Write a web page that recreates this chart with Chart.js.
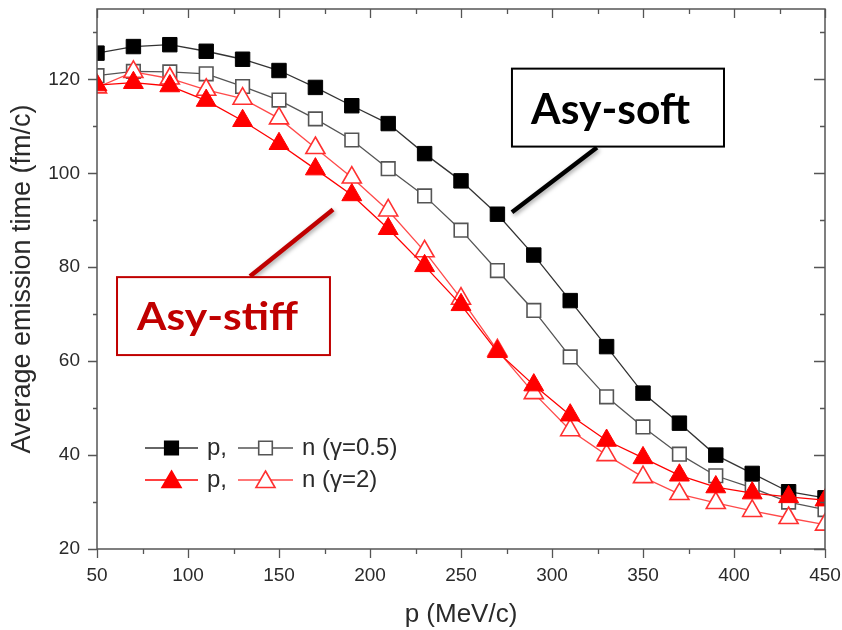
<!DOCTYPE html>
<html>
<head>
<meta charset="utf-8">
<script src="https://cdn.jsdelivr.net/npm/chart.js@4.4.1/dist/chart.umd.min.js"></script>
<style>
  html, body { margin: 0; padding: 0; background: #fff; }
  #chart { display: block; }
</style>
</head>
<body>
<canvas id="chart" width="842" height="630"></canvas>
<script>
// ─────────────────────────────────────────
//  DATA
// ─────────────────────────────────────────
const momentum = [50, 70, 90, 110, 130, 150, 170, 190, 210, 230, 250,
                  270, 290, 310, 330, 350, 370, 390, 410, 430, 450];

// proton / neutron emission times, gamma = 0.5 (asy-soft)
const protonSoft  = [125.6, 127.0, 127.4, 126.0, 124.3, 121.9, 118.3, 114.4, 110.6, 104.2, 98.4,
                     91.3, 82.6, 72.9, 63.1, 53.2, 46.8, 40.0, 36.1, 32.2, 30.9];
const neutronSoft = [120.8, 121.7, 121.6, 121.2, 118.5, 115.6, 111.6, 107.1, 101.0, 95.2, 87.9,
                     79.3, 70.8, 60.9, 52.4, 46.0, 40.2, 35.6, 33.0, 30.0, 28.4];

// proton / neutron emission times, gamma = 2 (asy-stiff)
const protonStiff  = [118.8, 119.3, 118.6, 115.5, 111.2, 106.3, 100.9, 95.4, 88.2, 80.3, 72.0,
                      62.0, 54.9, 48.5, 43.1, 39.4, 35.7, 33.2, 31.9, 31.1, 30.4];
const neutronStiff = [118.3, 121.6, 120.2, 117.8, 115.9, 111.7, 105.4, 99.1, 92.1, 83.4, 73.3,
                      62.3, 53.2, 45.3, 40.0, 35.3, 31.7, 29.8, 28.1, 26.6, 25.2];

const xTickLabels = [50, 100, 150, 200, 250, 300, 350, 400, 450];
const yTickLabels = [20, 40, 60, 80, 100, 120];

const legendRows = [
  { text1: 'p,', text2: 'n (γ=0.5)' },
  { text1: 'p,', text2: 'n (γ=2)' },
];

// ─────────────────────────────────────────
//  STYLE
// ─────────────────────────────────────────
const FONT       = '"Liberation Sans", Arial, sans-serif';
const NOTE_FONT  = 'Lato, "Open Sans", sans-serif';
const FRAME_CLR  = '#555';
const TEXT_CLR   = '#2a2a2a';
const STIFF_RED  = '#c00000';

const series = [
  { data: protonStiff,  shape: 'triangle', line: '#ff0000', stroke: '#ff0000', fill: '#ff0000', r: 11.5 },
  { data: neutronStiff, shape: 'triangle', line: '#ff4a4a', stroke: '#ff3030', fill: '#ffffff', r: 11 },
  { data: protonSoft,   shape: 'rect',     line: '#333333', stroke: '#000000', fill: '#000000', r: 10.2 },
  { data: neutronSoft,  shape: 'rect',     line: '#555555', stroke: '#555555', fill: '#ffffff', r: 9.6 },
];

// text boxes with pointer lines, placed in data coordinates
const notes = [
  { text: 'Asy-soft', color: '#000', fontPx: 42, widthPx: 159,
    box: [278.0, 122.3, 394.5, 105.7], textAt: [288.5, 110.6],
    pointer: [[278.0, 91.7], [324.7, 105.5]] },
  { text: 'Asy-stiff', color: STIFF_RED, fontPx: 39, widthPx: 161,
    box: [61.0, 77.9, 178.0, 61.3], textAt: [72.0, 66.6],
    pointer: [[134.1, 78.1], [179.7, 92.3]] },
];

// ─────────────────────────────────────────
//  PLUGINS
// ─────────────────────────────────────────
function markerPath(ctx, shape, x, y, r) {
  ctx.beginPath();
  if (shape === 'rect') {
    const s = Math.SQRT1_2 * r;
    ctx.rect(x - s, y - s, 2 * s, 2 * s);
  } else {
    for (let k = 0; k < 3; k++) {
      const a = k * 2 * Math.PI / 3;
      const px = x + Math.sin(a) * r, py = y - Math.cos(a) * r;
      k === 0 ? ctx.moveTo(px, py) : ctx.lineTo(px, py);
    }
    ctx.closePath();
  }
}

const frameAndTicks = {
  id: 'frameAndTicks',
  afterDraw(chart) {
    const { ctx, chartArea: a, scales: { x, y } } = chart;
    ctx.save();
    ctx.strokeStyle = FRAME_CLR;
    ctx.lineWidth = 1.5;
    ctx.strokeRect(a.left, a.top, a.right - a.left, a.bottom - a.top);

    ctx.lineWidth = 1.3;
    ctx.beginPath();
    x.ticks.forEach(t => {
      const px = Math.round(x.getPixelForValue(t.value)) + 0.5;
      const major = t.value % 50 === 0;
      const len = major ? 9 : 5;
      ctx.moveTo(px, a.bottom); ctx.lineTo(px, a.bottom + len);   // out
      ctx.moveTo(px, a.top);    ctx.lineTo(px, a.top + len);      // in
    });
    y.ticks.forEach(t => {
      const py = Math.round(y.getPixelForValue(t.value)) + 0.5;
      const major = t.value % 20 === 0;
      ctx.moveTo(a.left, py);  ctx.lineTo(a.left - (major ? 9 : 4), py);   // out
      ctx.moveTo(a.right, py); ctx.lineTo(a.right - (major ? 11 : 5), py); // in
    });
    ctx.stroke();
    ctx.restore();
  },
};

const legendBox = {
  id: 'legendBox',
  afterDraw(chart) {
    const { ctx, chartArea: a } = chart;
    const x0 = a.left + 48;
    const rowY = [a.top + 439, a.top + 471];
    ctx.save();
    legendRows.forEach((row, i) => {
      const yy = rowY[i];
      const pair = [series[i === 0 ? 2 : 0], series[i === 0 ? 3 : 1]];
      const segs = [[x0, x0 + 53, x0 + 62], [x0 + 93, x0 + 148, x0 + 157]];
      pair.forEach((s, j) => {
        const [l0, l1, tx] = segs[j];
        ctx.strokeStyle = s.line;
        ctx.lineWidth = 1.3;
        ctx.beginPath(); ctx.moveTo(l0, yy); ctx.lineTo(l1, yy); ctx.stroke();
        const mx = (l0 + l1) / 2;
        const r = s.shape === 'rect' ? 9.6 : 11;
        markerPath(ctx, s.shape, mx, yy + (s.shape === 'rect' ? 0 : 2), r);
        ctx.fillStyle = s.fill; ctx.fill();
        ctx.strokeStyle = s.stroke; ctx.lineWidth = 1.6; ctx.stroke();
        ctx.fillStyle = TEXT_CLR;
        ctx.font = '24px ' + FONT;
        ctx.textBaseline = 'alphabetic';
        ctx.fillText(j === 0 ? row.text1 : row.text2, tx, yy + 7);
      });
    });
    ctx.restore();
  },
};

const noteBoxes = {
  id: 'noteBoxes',
  afterDraw(chart) {
    const { ctx, scales: { x, y } } = chart;
    const X = v => x.getPixelForValue(v), Y = v => y.getPixelForValue(v);
    ctx.save();
    notes.forEach(n => {
      // pointer with a soft shadow
      ctx.save();
      ctx.shadowColor = 'rgba(0,0,0,0.35)';
      ctx.shadowBlur = 4; ctx.shadowOffsetX = 1.5; ctx.shadowOffsetY = 2;
      ctx.strokeStyle = n.color; ctx.lineWidth = 4.5; ctx.lineCap = 'butt';
      ctx.beginPath();
      ctx.moveTo(X(n.pointer[0][0]), Y(n.pointer[0][1]));
      ctx.lineTo(X(n.pointer[1][0]), Y(n.pointer[1][1]));
      ctx.stroke();
      ctx.restore();

      const bx = X(n.box[0]), by = Y(n.box[1]);
      const bw = X(n.box[2]) - bx, bh = Y(n.box[3]) - by;
      ctx.fillStyle = '#fff';
      ctx.fillRect(bx, by, bw, bh);
      ctx.strokeStyle = n.color; ctx.lineWidth = 2;
      ctx.strokeRect(bx, by, bw, bh);

      ctx.font = 'bold ' + n.fontPx + 'px ' + NOTE_FONT;
      ctx.textBaseline = 'alphabetic';
      const w = ctx.measureText(n.text).width;
      ctx.save();
      ctx.translate(X(n.textAt[0]), Y(n.textAt[1]));
      ctx.scale(n.widthPx / w, 1);
      ctx.fillStyle = n.color;
      ctx.fillText(n.text, 0, 0);
      ctx.restore();
    });
    ctx.restore();
  },
};

// fixed axis boxes, no extra label overhang padding
function fixBox(size) {
  return s => {
    if (s.isHorizontal()) s.height = size; else s.width = size;
    s.paddingTop = s.paddingBottom = s.paddingLeft = s.paddingRight = 0;
  };
}

// ─────────────────────────────────────────
//  CHART
// ─────────────────────────────────────────
const datasets = series.map(s => ({
  data: momentum.map((m, i) => ({ x: m, y: s.data[i] })),
  borderColor: s.line,
  borderWidth: 1.3,
  pointStyle: s.shape,
  pointRadius: s.r,
  pointBackgroundColor: s.fill,
  pointBorderColor: s.stroke,
  pointBorderWidth: s.fill === '#ffffff' ? 1.6 : 1,
  tension: 0,
}));

new Chart(document.getElementById('chart'), {
  type: 'line',
  data: { datasets },
  plugins: [frameAndTicks, noteBoxes, legendBox],
  options: {
    responsive: false,
    animation: false,
    events: [],
    layout: { autoPadding: false, padding: { top: 9, right: 17, left: 0, bottom: 0 } },
    plugins: { legend: { display: false }, tooltip: { enabled: false } },
    scales: {
      x: {
        type: 'linear', min: 50, max: 450,
        grid: { display: false, drawTicks: false, tickLength: 0 },
        border: { display: false },
        ticks: {
          stepSize: 25, padding: 15, color: TEXT_CLR, maxRotation: 0, autoSkip: false,
          font: { family: FONT, size: 19 },
          callback: v => xTickLabels.includes(v) ? String(v) : '',
        },
        title: { display: true, text: 'p (MeV/c)', color: TEXT_CLR,
                 font: { family: FONT, size: 26 }, padding: { top: 9, bottom: 0 } },
        afterFit: fixBox(81),
      },
      y: {
        type: 'linear', min: 20, max: 135,
        grid: { display: false, drawTicks: false, tickLength: 0 },
        border: { display: false },
        afterBuildTicks: s => { s.ticks = s.ticks.filter(t => t.value % 10 === 0); },
        ticks: {
          stepSize: 10, padding: 17, color: TEXT_CLR, autoSkip: false,
          font: { family: FONT, size: 19 },
          callback: v => yTickLabels.includes(v) ? String(v) : '',
        },
        title: { display: true, text: 'Average emission time (fm/c)', color: TEXT_CLR,
                 font: { family: FONT, size: 27 }, padding: { top: 6, bottom: 0 } },
        afterFit: fixBox(97),
      },
    },
  },
});
</script>
</body>
</html>
